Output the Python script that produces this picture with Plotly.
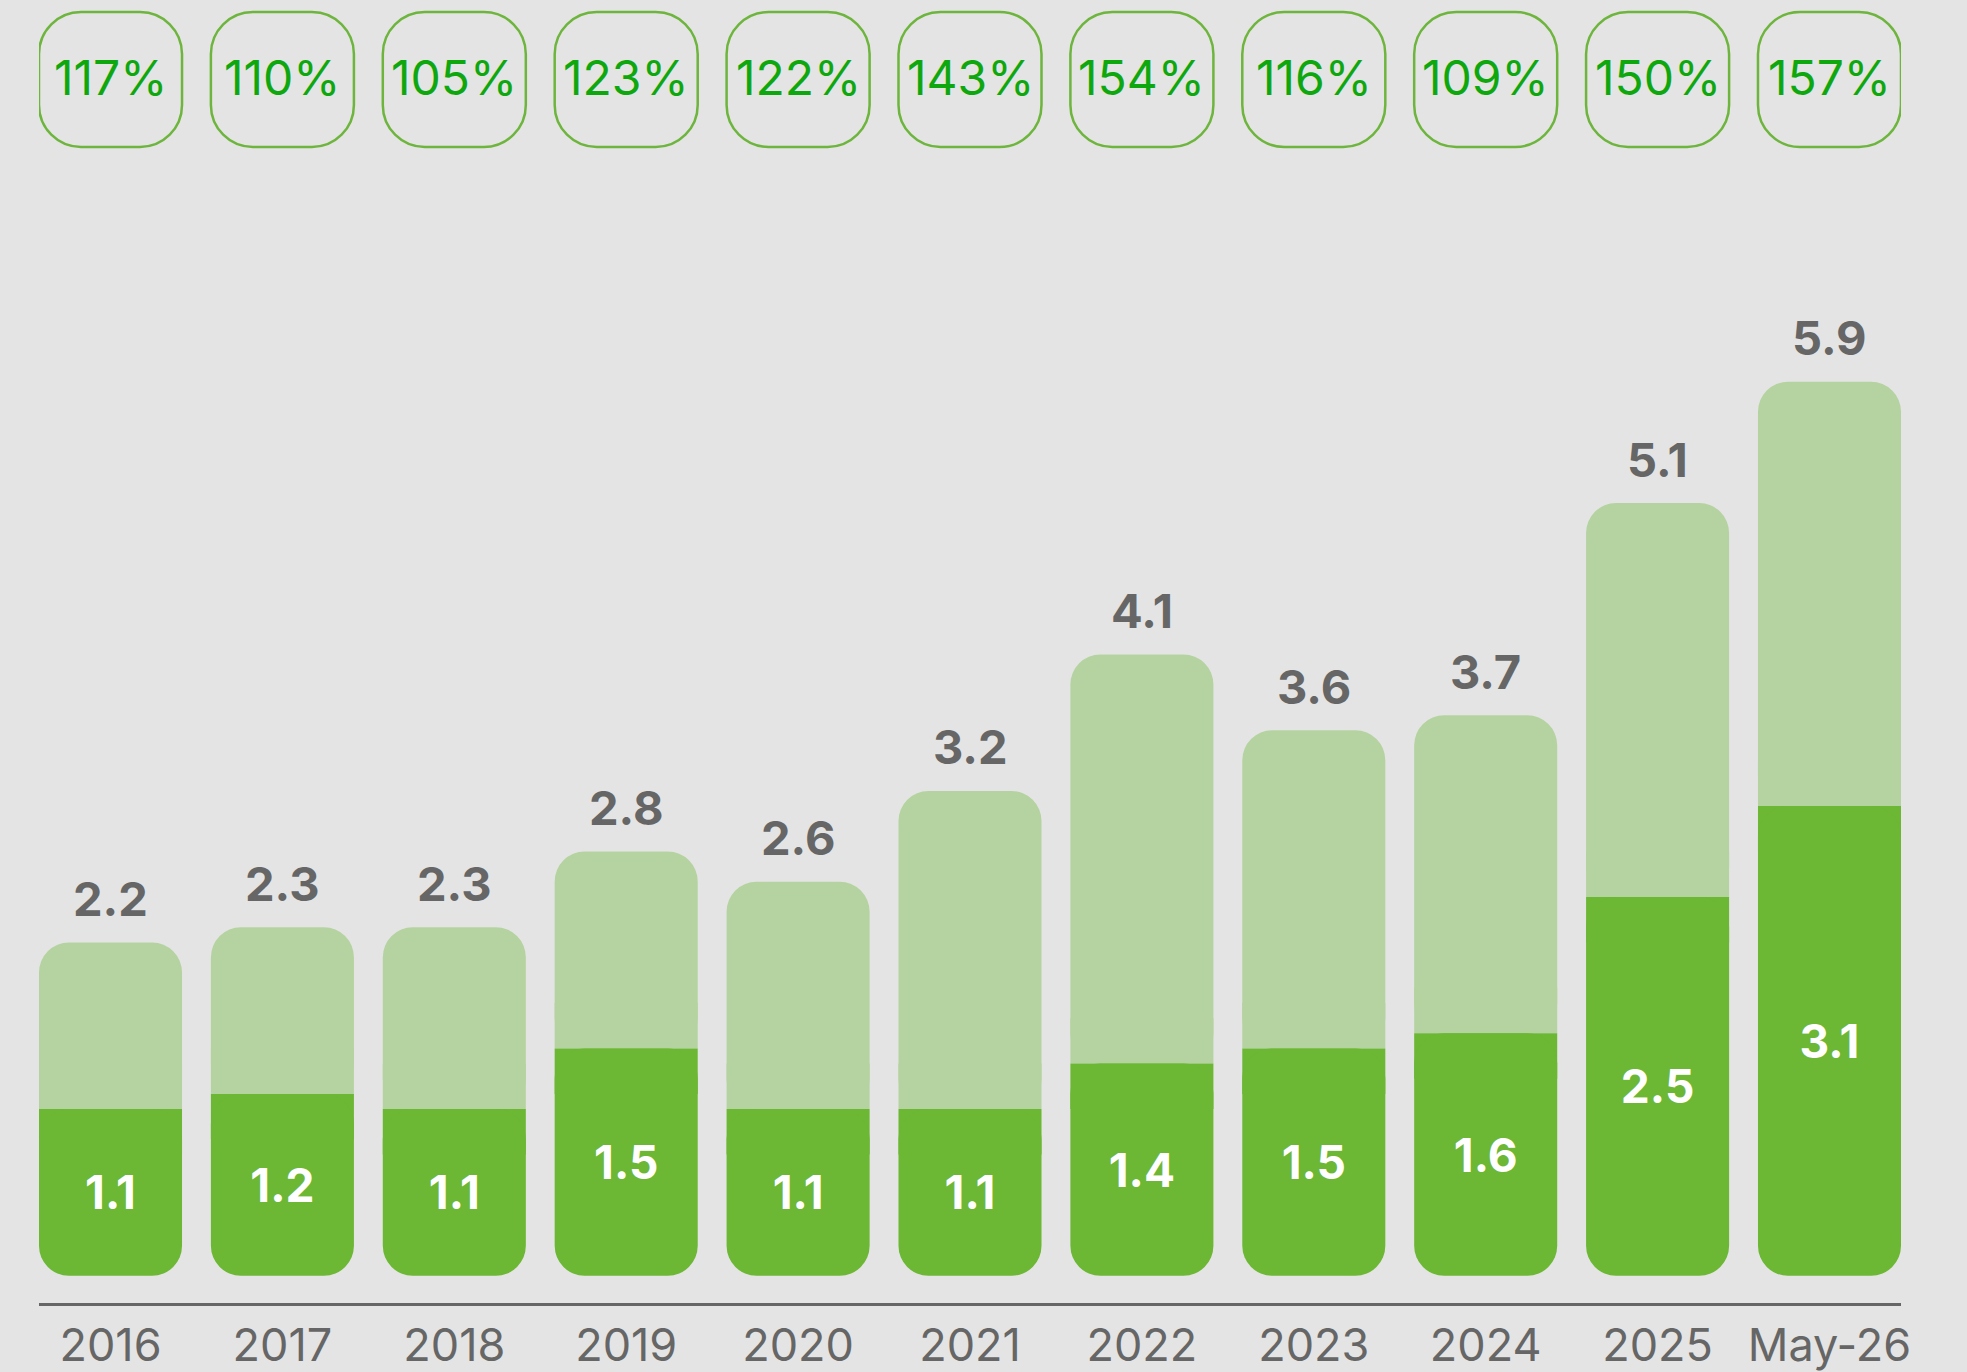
import plotly.graph_objects as go

# ---------------- data ----------------
categories = ["2016", "2017", "2018", "2019", "2020", "2021", "2022", "2023", "2024", "2025", "May-26"]
total_values = [2.2, 2.3, 2.3, 2.8, 2.6, 3.2, 4.1, 3.6, 3.7, 5.1, 5.9]
base_values = [1.1, 1.2, 1.1, 1.5, 1.1, 1.1, 1.4, 1.5, 1.6, 2.5, 3.1]
growth_labels = ["117%", "110%", "105%", "123%", "122%", "143%", "154%", "116%", "109%", "150%", "157%"]

# ---------------- style / layout ----------------
W, H = 1967, 1372
M_L, M_R, M_T, M_B = 39, 66, 0, 69
BAR_W = 0.832
Y_RANGE = [-0.18, 8.42]
BG = "#e4e4e4"
LIGHT = "#b5d3a0"
DARK = "#6cb734"
GRAY = "#666666"
PILL_LINE = "#6db53c"
PILL_TEXT = "#0ea80e"
FONT = "Inter"
RADIUS = 30          # bar corner radius, px
PATCH = 0.3          # height (axis units) of square joint patches
PILL_TOP_PX, PILL_BOT_PX, PILL_R_PX = 12, 147, 42

n = len(categories)
x = list(range(n))
X_RANGE = [-BAR_W / 2, n - 1 + BAR_W / 2]
plot_w = W - M_L - M_R
plot_h = H - M_T - M_B
px_per_x = plot_w / (X_RANGE[1] - X_RANGE[0])

upper = [t - b for t, b in zip(total_values, base_values)]

fig = go.Figure()
# light (upper) segment, rounded
fig.add_bar(x=x, y=upper, base=base_values, width=BAR_W,
            marker=dict(color=LIGHT, cornerradius=RADIUS, line_width=0), hoverinfo="skip")
# square joint patches so the junction between segments is straight
fig.add_bar(x=x, y=[PATCH] * n, base=base_values, width=BAR_W,
            marker=dict(color=LIGHT, cornerradius=0, line_width=0), hoverinfo="skip")
fig.add_bar(x=x, y=[PATCH] * n, base=[b - PATCH for b in base_values], width=BAR_W,
            marker=dict(color=DARK, cornerradius=0, line_width=0), hoverinfo="skip")
# dark (lower) segment, rounded at the bottom, with its value label
fig.add_bar(
    x=x, y=[-b for b in base_values], base=base_values, width=BAR_W,
    marker=dict(color=DARK, cornerradius=RADIUS, line_width=0),
    text=[f"{b:.1f}" for b in base_values],
    textposition="inside", insidetextanchor="middle", textangle=0,
    constraintext="none",
    textfont=dict(color="white", size=46, family=FONT, weight=700),
    hoverinfo="skip",
)

# total labels above bars
for i, t in enumerate(total_values):
    fig.add_annotation(
        x=i, y=t, text=f"{t:.1f}", showarrow=False, yanchor="middle", yshift=44,
        font=dict(color=GRAY, size=47, family=FONT, weight=700),
    )

# growth pills
def to_paper(px):
    return 1 - (px - M_T) / plot_h

p_top = to_paper(PILL_TOP_PX)
p_bot = to_paper(PILL_BOT_PX)
rx = PILL_R_PX / px_per_x
ry = PILL_R_PX / plot_h
k = 0.5523

def rounded_rect(x0, x1, y0, y1):
    return (
        f"M {x0+rx},{y1} L {x1-rx},{y1} "
        f"C {x1-rx+k*rx},{y1} {x1},{y1-ry+k*ry} {x1},{y1-ry} "
        f"L {x1},{y0+ry} "
        f"C {x1},{y0+ry-k*ry} {x1-rx+k*rx},{y0} {x1-rx},{y0} "
        f"L {x0+rx},{y0} "
        f"C {x0+rx-k*rx},{y0} {x0},{y0+ry-k*ry} {x0},{y0+ry} "
        f"L {x0},{y1-ry} "
        f"C {x0},{y1-ry+k*ry} {x0+rx-k*rx},{y1} {x0+rx},{y1} Z"
    )

for i, g in enumerate(growth_labels):
    fig.add_shape(
        type="path", xref="x", yref="paper",
        path=rounded_rect(i - BAR_W / 2, i + BAR_W / 2, p_bot, p_top),
        line=dict(color=PILL_LINE, width=2.5), fillcolor="rgba(0,0,0,0)",
        layer="above",
    )
    fig.add_annotation(
        x=i, y=(p_top + p_bot) / 2, xref="x", yref="paper", text=g,
        showarrow=False, yanchor="middle", yshift=2,
        font=dict(color=PILL_TEXT, size=48, family=FONT),
    )

fig.update_layout(
    width=W, height=H,
    margin=dict(l=M_L, r=M_R, t=M_T, b=M_B, pad=0),
    paper_bgcolor=BG, plot_bgcolor=BG,
    barmode="overlay", showlegend=False,
    xaxis=dict(
        range=X_RANGE, tickvals=x, ticktext=categories,
        showline=True, linecolor=GRAY, linewidth=3, ticks="",
        showgrid=False, zeroline=False, fixedrange=True, automargin=False,
        tickfont=dict(color=GRAY, size=45, family=FONT),
        ticklabelstandoff=1,
    ),
    yaxis=dict(range=Y_RANGE, visible=False, fixedrange=True, automargin=False),
)

fig.write_html(
    "out.html",
    config={"displayModeBar": False},
    post_script="document.body.style.margin='0';document.body.style.overflow='hidden';",
)
